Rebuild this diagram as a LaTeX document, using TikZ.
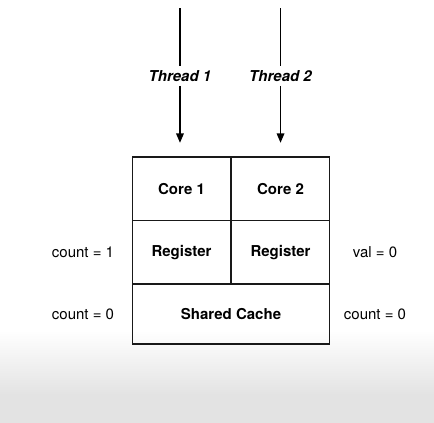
\documentclass[tikz,border=0pt]{standalone}
\usepackage{fontspec}
\setmainfont{TeX Gyre Heros}
\begin{document}
\begin{tikzpicture}[font=\fontsize{11.3}{13}\selectfont]
        \tikzset{cell/.style={draw=black!90,line width=1pt,inner sep=0pt,font=\fontsize{11.3}{13}\selectfont\bfseries},
                 thread/.style={inner sep=3pt,font=\fontsize{11.3}{13}\selectfont\bfseries\itshape}}
            % background with the grey fade at the bottom
            \useasboundingbox (0,0) rectangle (11.483,-11.192);
            \fill[white] (0,0) rectangle (11.483,-8.731);
            \shade[top color=white,bottom color=black!11] (0,-8.731) rectangle (11.483,-10.451);
            \fill[black!11] (0,-10.451) rectangle (11.483,-11.192);

            % the cores and registers
            \node[cell,minimum width=74.25pt,minimum height=47.6pt] (core1) at (4.802,-4.994) {Core 1};
            \node[cell,minimum width=74.25pt,minimum height=47.6pt] (core2) at (7.422,-4.994) {Core 2};
            \node[cell,minimum width=74.25pt,minimum height=48pt] (reg1) at (4.802,-6.674) {Register};
            \node[cell,minimum width=74.25pt,minimum height=48pt] (reg2) at (7.422,-6.674) {Register};

            % the shared cache
            \node[cell,minimum width=148.5pt,minimum height=45pt] (cache) at (6.112,-8.308) {Shared Cache};

            % the threads
            \coordinate (top1) at (4.762,-0.212);
            \coordinate (top2) at (7.422,-0.212);
            \coordinate (tip1) at (4.762,-3.776);
            \coordinate (tip2) at (7.422,-3.776);
            \node[thread] (thread1) at (4.762,-2.011) {Thread 1};
            \node[thread] (thread2) at (7.422,-2.011) {Thread 2};
            \draw[line width=0.8pt] (top1) -- (thread1);
            \draw[line width=0.8pt] (top2) -- (thread2);
            \draw[line width=0.8pt,shorten >=4pt] (thread1) -- (tip1);
            \draw[line width=0.8pt,shorten >=4pt] (thread2) -- (tip2);

            % arrow heads
            \fill (tip1) -- ++(-3pt,7pt) -- ++(6pt,0pt) -- cycle;
            \fill (tip2) -- ++(-3pt,7pt) -- ++(6pt,0pt) -- cycle;

            % text at the sides
            \node (count1) at (2.196,-6.681) {count = 1};
            \node (count0) at (2.196,-8.308) {count = 0};
            \node (val) at (9.922,-6.681) {val = 0};
            \node (countc) at (9.922,-8.308) {count = 0};
        \end{tikzpicture}
\end{document}
